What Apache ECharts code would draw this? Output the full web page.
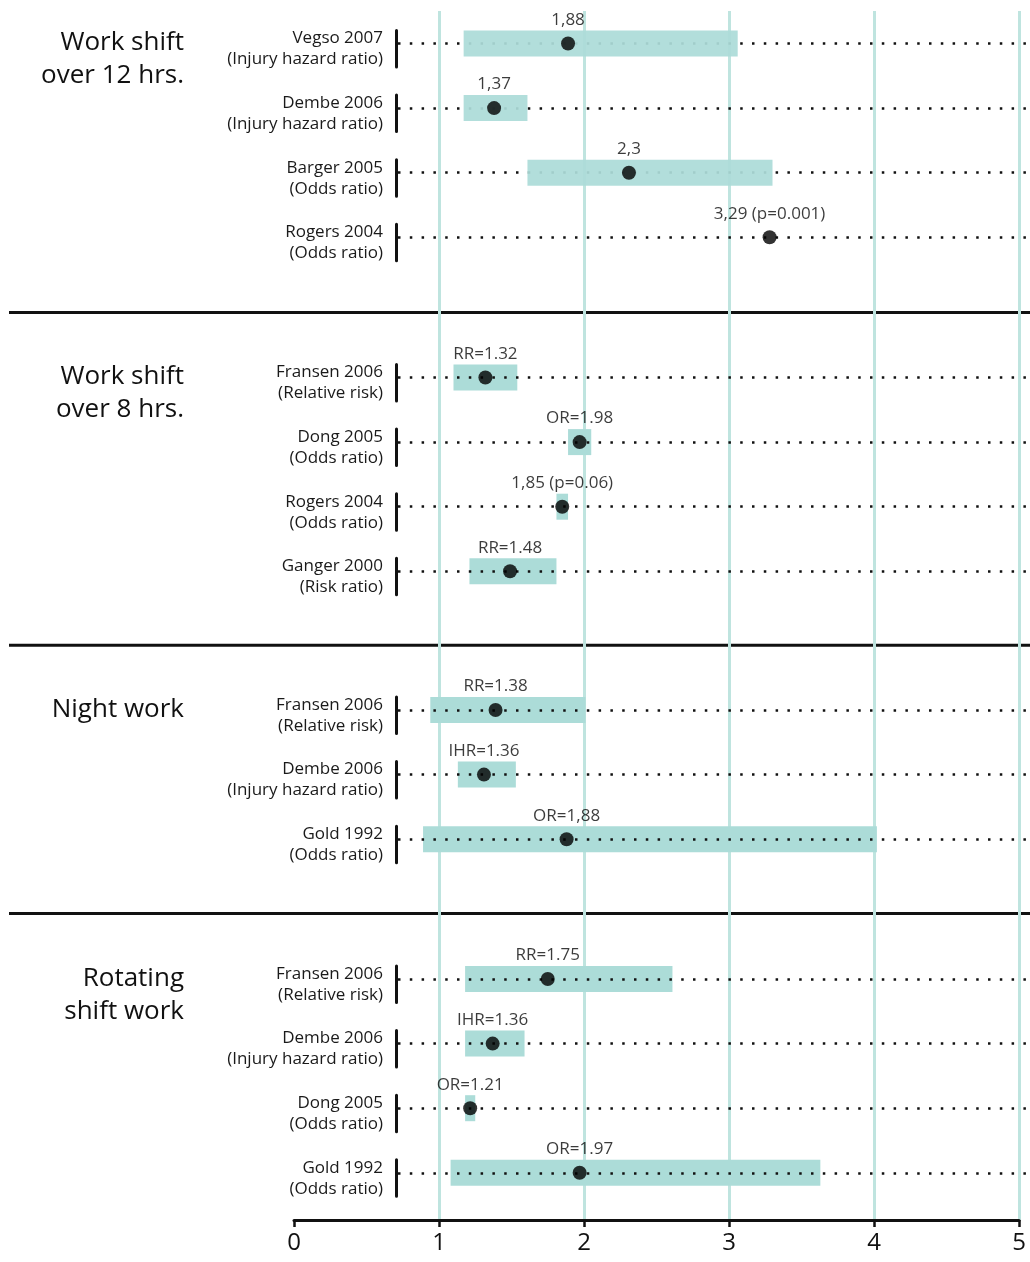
<!DOCTYPE html>
<html>
<head>
<meta charset="utf-8">
<script src="https://cdn.jsdelivr.net/npm/echarts@6/dist/echarts.min.js"></script>
<style>
  html, body { margin: 0; padding: 0; background: #fff; }
  #chart { width: 1030px; height: 1262px; }
</style>
</head>
<body>
<div id="chart"></div>
<script>
// group headings
const groupTitles = ['Work shift\nover 12 hrs.', 'Work shift\nover 8 hrs.', 'Night work', 'Rotating\nshift work'];

// work shift over 12 hrs
const studies12h = ['Vegso 2007\n(Injury hazard ratio)', 'Dembe 2006\n(Injury hazard ratio)', 'Barger 2005\n(Odds ratio)', 'Rogers 2004\n(Odds ratio)'];
const estimate12h = [1.89, 1.38, 2.31, 3.28];
const low12h = [1.17, 1.17, 1.61, null];
const high12h = [3.06, 1.61, 3.30, null];
const text12h = ['1,88', '1,37', '2,3', '3,29 (p=0.001)'];

// work shift over 8 hrs
const studies8h = ['Fransen 2006\n(Relative risk)', 'Dong 2005\n(Odds ratio)', 'Rogers 2004\n(Odds ratio)', 'Ganger 2000\n(Risk ratio)'];
const estimate8h = [1.32, 1.97, 1.85, 1.49];
const low8h = [1.10, 1.89, 1.81, 1.21];
const high8h = [1.54, 2.05, 1.89, 1.81];
const text8h = ['RR=1.32', 'OR=1.98', '1,85 (p=0.06)', 'RR=1.48'];

// night work
const studiesNight = ['Fransen 2006\n(Relative risk)', 'Dembe 2006\n(Injury hazard ratio)', 'Gold 1992\n(Odds ratio)'];
const estimateNight = [1.39, 1.31, 1.88];
const lowNight = [0.94, 1.13, 0.89];
const highNight = [2.01, 1.53, 4.02];
const textNight = ['RR=1.38', 'IHR=1.36', 'OR=1,88'];

// rotating shift work
const studiesRot = ['Fransen 2006\n(Relative risk)', 'Dembe 2006\n(Injury hazard ratio)', 'Dong 2005\n(Odds ratio)', 'Gold 1992\n(Odds ratio)'];
const estimateRot = [1.75, 1.37, 1.215, 1.97];
const lowRot = [1.18, 1.18, 1.18, 1.08];
const highRot = [2.61, 1.59, 1.25, 3.63];
const textRot = ['RR=1.75', 'IHR=1.36', 'OR=1.21', 'OR=1.97'];

// x axis ticks
const xTicks = [0, 1, 2, 3, 4, 5];

const groups = [
    { names: studies12h, est: estimate12h, low: low12h, high: high12h, text: text12h },
    { names: studies8h, est: estimate8h, low: low8h, high: high8h, text: text8h },
    { names: studiesNight, est: estimateNight, low: lowNight, high: highNight, text: textNight },
    { names: studiesRot, est: estimateRot, low: lowRot, high: highRot, text: textRot }
];

const FONT = 'Open Sans';
const INK = '#111';
const TEAL = '#acdcd8';
const GRIDLINE = '#bfe4df';
const ROW = 64.6;
const groupTops = [11.2, 345.2, 677.7, 946.7];
const separators = [312.5, 645.3, 913.5];

const grids = [{ left: 294, right: 11, top: 11, bottom: 42 }];
const xAxes = [{
    gridIndex: 0,
    type: 'value',
    min: xTicks[0],
    max: xTicks[xTicks.length - 1],
    interval: 1,
    splitLine: { show: true, showMinLine: false, lineStyle: { color: GRIDLINE, width: 3 } },
    axisLine: { show: true, onZero: false, lineStyle: { color: INK, width: 3 } },
    axisTick: { show: true, length: 7, lineStyle: { color: INK, width: 2.5 } },
    axisLabel: { fontSize: 24, color: INK, margin: 11, fontFamily: FONT }
}];
const yAxes = [{ gridIndex: 0, type: 'value', show: false }];
const series = [];
const graphics = [];

groups.forEach((g, i) => {
    const gi = i + 1;
    grids.push({ left: 294, right: 11, top: groupTops[i], height: g.names.length * ROW });
    xAxes.push({ gridIndex: gi, type: 'value', min: 0, max: 5, show: false });
    yAxes.push({
        gridIndex: gi,
        type: 'category',
        inverse: true,
        data: g.names,
        offset: -102,
        z: i === 0 ? 0 : 3,
        axisLine: {
            show: true, onZero: false,
            lineStyle: { color: INK, width: 3, type: [36.5, ROW - 36.5], dashOffset: 45.3 }
        },
        axisTick: {
            show: true, inside: true, alignWithLabel: true, length: 634,
            lineStyle: { color: INK, width: 2.5, type: [2.5, 9.3], dashOffset: -2 }
        },
        axisLabel: {
            interval: 0, margin: 13, color: '#222',
            // a thin empty first line pushes the two text lines a little below the row
            formatter: v => '{pad| }\n{t|' + v.replace('\n', '}\n{t|') + '}',
            rich: {
                pad: { fontSize: 1, lineHeight: 11 },
                t: { fontSize: 17, lineHeight: 21, color: '#1a1a1a', fontFamily: FONT, align: 'right' }
            }
        },
        splitLine: { show: false }
    });

    const ranges = [];
    g.low.forEach((lo, k) => {
        if (lo !== null) ranges.push([lo, g.high[k], k]);
    });
    series.push({
        type: 'custom',
        xAxisIndex: gi,
        yAxisIndex: gi,
        z: 2,
        encode: { x: [0, 1], y: 2 },
        data: ranges,
        renderItem: (params, api) => {
            const a = api.coord([api.value(0), api.value(2)]);
            const b = api.coord([api.value(1), api.value(2)]);
            const h = 26;
            return {
                type: 'rect',
                shape: { x: a[0], y: a[1] - h / 2, width: b[0] - a[0], height: h },
                style: { fill: i === 0 ? 'rgba(172,220,216,0.93)' : TEAL }
            };
        }
    });
    series.push({
        type: 'scatter',
        xAxisIndex: gi,
        yAxisIndex: gi,
        z: 5,
        symbolSize: 14,
        itemStyle: { color: '#000' },
        data: g.est.map((v, k) => [v, k]),
        label: {
            show: true, position: 'top', distance: 8,
            formatter: p => g.text[p.dataIndex],
            fontSize: 17, color: '#0a0a0a', fontFamily: FONT
        }
    });

    graphics.push({
        type: 'text',
        right: 846,
        top: groupTops[i] + ROW / 2 - 17,
        style: {
            text: groupTitles[i], fontSize: 26, lineHeight: 33, fontFamily: FONT,
            fill: INK, textAlign: 'right'
        }
    });
});

separators.forEach(y => {
    graphics.push({
        type: 'line',
        shape: { x1: 9, y1: y, x2: 1030, y2: y },
        style: { stroke: INK, lineWidth: 3 }
    });
});

echarts.init(document.querySelector('#chart')).setOption({
    animation: false,
    backgroundColor: '#fff',
    grid: grids,
    xAxis: xAxes,
    yAxis: yAxes,
    series: series,
    graphic: graphics
});
</script>
</body>
</html>
